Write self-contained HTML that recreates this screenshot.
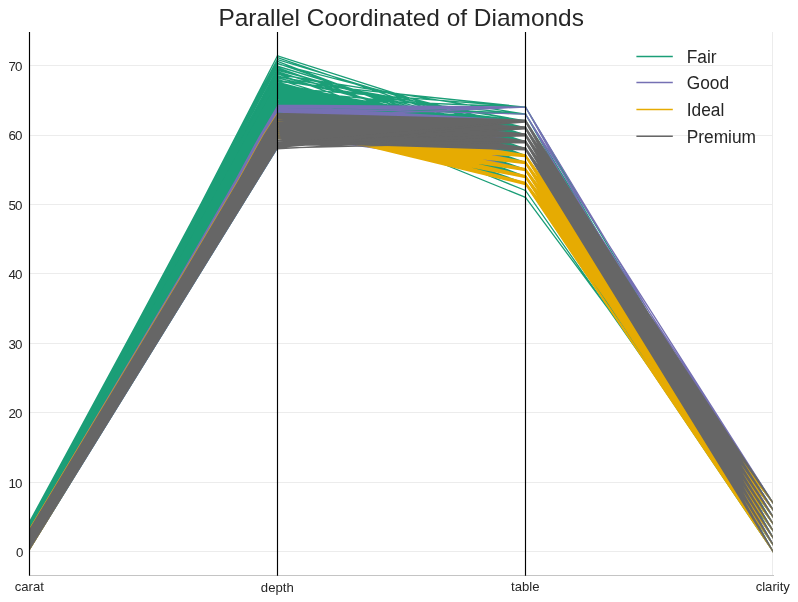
<!DOCTYPE html>
<html lang="en"><head><meta charset="utf-8"><title>Parallel Coordinated of Diamonds</title>
<style>
html,body{margin:0;padding:0;background:#fff;}
body{width:798px;height:602px;overflow:hidden;}
svg{display:block;font-family:"Liberation Sans",Arial,sans-serif;}
</style></head><body>
<svg width="798" height="602" viewBox="0 0 798 602">
<defs><clipPath id="ax"><rect x="29.5" y="32.0" width="743.5" height="543.5"/></clipPath></defs>
<rect width="798" height="602" fill="#ffffff"/>
<g stroke="#ececec" stroke-width="1" shape-rendering="crispEdges"><line x1="29.5" x2="773.0" y1="551.5" y2="551.5"/><line x1="29.5" x2="773.0" y1="482.5" y2="482.5"/><line x1="29.5" x2="773.0" y1="412.5" y2="412.5"/><line x1="29.5" x2="773.0" y1="343.5" y2="343.5"/><line x1="29.5" x2="773.0" y1="273.5" y2="273.5"/><line x1="29.5" x2="773.0" y1="204.5" y2="204.5"/><line x1="29.5" x2="773.0" y1="135.5" y2="135.5"/><line x1="29.5" x2="773.0" y1="65.5" y2="65.5"/><line x1="772.5" x2="772.5" y1="32.0" y2="575.5"/></g>
<g clip-path="url(#ax)" stroke-linecap="square">
<polygon points="29.5,526.3 168,273.5 217.3,180 241,134.9 277.5,67.5 277.5,149 29.5,550.5" fill="#1b9e77"/>
<path d="M29.5 522L277.5 64.1M29.5 524.1L277.5 61.3M29.5 527.9L277.5 59.2M29.5 535.5L277.5 55.8M29.5 523.7L277.5 66.9M29.5 529.3L277.5 63.4M29.5 525.5L277.5 70.4M29.5 531.4L277.5 66.2M29.5 524.8L277.5 74.5M29.5 533.4L277.5 69.7M29.5 527.2L277.5 76.6M29.5 528.6L277.5 79.4M29.5 525.8L277.5 80.1" stroke="#1b9e77" stroke-width="1.3" fill="none"/>
<path d="M277.5 55.8L525.5 134.9M277.5 57.5L525.5 141.9M277.5 59.6L525.5 134.9M277.5 63.4L525.5 148.8M277.5 63.8L525.5 128M277.5 66.2L525.5 141.9M277.5 67.6L525.5 155.7M277.5 70.4L525.5 134.9M277.5 71.7L525.5 148.8M277.5 73.1L525.5 128M277.5 73.8L525.5 162.7M277.5 74.5L525.5 114.1M277.5 75.9L525.5 141.9M277.5 78L525.5 134.9M277.5 79.4L525.5 155.7M277.5 80.1L525.5 121M277.5 81.5L525.5 107.1M277.5 82.2L525.5 148.8M277.5 84.2L525.5 169.6M277.5 84.9L525.5 141.9M277.5 87L525.5 155.7M277.5 87.7L525.5 107.1M277.5 76.6L525.5 121M277.5 69L525.5 141.9M277.5 61.3L525.5 155.7M277.5 117.6L525.5 183.5M277.5 117.6L525.5 176.6M277.5 117.6L525.5 169.6M277.5 117.6L525.5 162.7M277.5 117.6L525.5 155.7M277.5 117.6L525.5 148.8M277.5 117.6L525.5 141.9M277.5 117.6L525.5 134.9M277.5 117.6L525.5 128M277.5 116.9L525.5 183.5M277.5 116.9L525.5 176.6M277.5 116.9L525.5 169.6M277.5 116.9L525.5 162.7M277.5 116.9L525.5 155.7M277.5 116.9L525.5 148.8M277.5 116.9L525.5 141.9M277.5 116.9L525.5 134.9M277.5 116.2L525.5 183.5M277.5 116.2L525.5 176.6M277.5 116.2L525.5 162.7M277.5 116.2L525.5 148.8M277.5 116.2L525.5 141.9M277.5 116.2L525.5 134.9M277.5 116.2L525.5 128M277.5 115.5L525.5 183.5M277.5 115.5L525.5 176.6M277.5 115.5L525.5 169.6M277.5 115.5L525.5 162.7M277.5 115.5L525.5 155.7M277.5 115.5L525.5 148.8M277.5 115.5L525.5 141.9M277.5 115.5L525.5 134.9M277.5 115.5L525.5 128M277.5 114.8L525.5 183.5M277.5 114.8L525.5 176.6M277.5 114.8L525.5 169.6M277.5 114.8L525.5 162.7M277.5 114.8L525.5 155.7M277.5 114.8L525.5 148.8M277.5 114.8L525.5 141.9M277.5 114.8L525.5 134.9M277.5 114.8L525.5 128M277.5 114.1L525.5 183.5M277.5 114.1L525.5 176.6M277.5 114.1L525.5 162.7M277.5 114.1L525.5 155.7M277.5 114.1L525.5 141.9M277.5 114.1L525.5 134.9M277.5 114.1L525.5 128M277.5 113.4L525.5 183.5M277.5 113.4L525.5 176.6M277.5 113.4L525.5 169.6M277.5 113.4L525.5 162.7M277.5 113.4L525.5 155.7M277.5 113.4L525.5 148.8M277.5 113.4L525.5 134.9M277.5 113.4L525.5 128M277.5 112.7L525.5 183.5M277.5 112.7L525.5 176.6M277.5 112.7L525.5 169.6M277.5 112.7L525.5 162.7M277.5 112.7L525.5 148.8M277.5 112.7L525.5 141.9M277.5 112.7L525.5 134.9M277.5 112.7L525.5 128M277.5 112L525.5 183.5M277.5 112L525.5 169.6M277.5 112L525.5 162.7M277.5 112L525.5 155.7M277.5 112L525.5 148.8M277.5 112L525.5 141.9M277.5 112L525.5 134.9M277.5 112L525.5 128M277.5 111.3L525.5 183.5M277.5 111.3L525.5 176.6M277.5 111.3L525.5 169.6M277.5 111.3L525.5 162.7M277.5 111.3L525.5 155.7M277.5 111.3L525.5 148.8M277.5 111.3L525.5 134.9M277.5 111.3L525.5 128M277.5 110.6L525.5 183.5M277.5 110.6L525.5 169.6M277.5 110.6L525.5 155.7M277.5 110.6L525.5 148.8M277.5 110.6L525.5 141.9M277.5 109.9L525.5 183.5M277.5 109.9L525.5 176.6M277.5 109.9L525.5 169.6M277.5 109.9L525.5 162.7M277.5 109.9L525.5 155.7M277.5 109.9L525.5 148.8M277.5 109.9L525.5 141.9M277.5 109.9L525.5 134.9M277.5 109.9L525.5 128M277.5 109.2L525.5 183.5M277.5 109.2L525.5 176.6M277.5 109.2L525.5 162.7M277.5 109.2L525.5 155.7M277.5 109.2L525.5 148.8M277.5 109.2L525.5 141.9M277.5 109.2L525.5 134.9M277.5 108.5L525.5 183.5M277.5 108.5L525.5 169.6M277.5 108.5L525.5 162.7M277.5 108.5L525.5 155.7M277.5 108.5L525.5 148.8M277.5 108.5L525.5 141.9M277.5 108.5L525.5 134.9M277.5 108.5L525.5 128M277.5 107.8L525.5 183.5M277.5 107.8L525.5 176.6M277.5 107.8L525.5 169.6M277.5 107.8L525.5 162.7M277.5 107.8L525.5 155.7M277.5 107.8L525.5 148.8M277.5 107.8L525.5 141.9M277.5 107.8L525.5 134.9M277.5 107.8L525.5 128M277.5 107.1L525.5 176.6M277.5 107.1L525.5 169.6M277.5 107.1L525.5 162.7M277.5 107.1L525.5 155.7M277.5 107.1L525.5 148.8M277.5 107.1L525.5 141.9M277.5 107.1L525.5 134.9M277.5 106.5L525.5 183.5M277.5 106.5L525.5 176.6M277.5 106.5L525.5 169.6M277.5 106.5L525.5 162.7M277.5 106.5L525.5 155.7M277.5 106.5L525.5 148.8M277.5 106.5L525.5 141.9M277.5 106.5L525.5 134.9M277.5 106.5L525.5 128M277.5 105.8L525.5 176.6M277.5 105.8L525.5 169.6M277.5 105.8L525.5 162.7M277.5 105.8L525.5 155.7M277.5 105.8L525.5 148.8M277.5 105.8L525.5 128M277.5 105.1L525.5 183.5M277.5 105.1L525.5 176.6M277.5 105.1L525.5 169.6M277.5 105.1L525.5 162.7M277.5 105.1L525.5 155.7M277.5 105.1L525.5 148.8M277.5 105.1L525.5 141.9M277.5 105.1L525.5 134.9M277.5 105.1L525.5 128M277.5 104.4L525.5 169.6M277.5 104.4L525.5 162.7M277.5 104.4L525.5 155.7M277.5 104.4L525.5 148.8M277.5 104.4L525.5 141.9M277.5 104.4L525.5 134.9M277.5 104.4L525.5 128M277.5 103.7L525.5 183.5M277.5 103.7L525.5 176.6M277.5 103.7L525.5 169.6M277.5 103.7L525.5 162.7M277.5 103.7L525.5 148.8M277.5 103L525.5 183.5M277.5 103L525.5 176.6M277.5 103L525.5 169.6M277.5 103L525.5 162.7M277.5 103L525.5 155.7M277.5 103L525.5 148.8M277.5 103L525.5 134.9M277.5 103L525.5 128M277.5 102.3L525.5 183.5M277.5 102.3L525.5 176.6M277.5 102.3L525.5 169.6M277.5 102.3L525.5 162.7M277.5 102.3L525.5 148.8M277.5 102.3L525.5 141.9M277.5 102.3L525.5 134.9M277.5 102.3L525.5 128M277.5 101.6L525.5 183.5M277.5 101.6L525.5 176.6M277.5 101.6L525.5 169.6M277.5 101.6L525.5 155.7M277.5 101.6L525.5 148.8M277.5 101.6L525.5 134.9M277.5 101.6L525.5 128M277.5 100.9L525.5 183.5M277.5 100.9L525.5 176.6M277.5 100.9L525.5 162.7M277.5 100.9L525.5 155.7M277.5 100.9L525.5 148.8M277.5 100.9L525.5 134.9M277.5 100.9L525.5 128M277.5 100.2L525.5 183.5M277.5 100.2L525.5 176.6M277.5 100.2L525.5 169.6M277.5 100.2L525.5 155.7M277.5 100.2L525.5 148.8M277.5 100.2L525.5 134.9M277.5 99.5L525.5 183.5M277.5 99.5L525.5 176.6M277.5 99.5L525.5 169.6M277.5 99.5L525.5 162.7M277.5 99.5L525.5 155.7M277.5 99.5L525.5 148.8M277.5 99.5L525.5 141.9M277.5 99.5L525.5 134.9M277.5 99.5L525.5 128M277.5 98.8L525.5 176.6M277.5 98.8L525.5 169.6M277.5 98.8L525.5 162.7M277.5 98.8L525.5 148.8M277.5 98.8L525.5 134.9M277.5 98.8L525.5 128M277.5 98.1L525.5 183.5M277.5 98.1L525.5 176.6M277.5 98.1L525.5 169.6M277.5 98.1L525.5 162.7M277.5 98.1L525.5 155.7M277.5 98.1L525.5 148.8M277.5 98.1L525.5 141.9M277.5 98.1L525.5 134.9M277.5 98.1L525.5 128M277.5 97.4L525.5 183.5M277.5 97.4L525.5 176.6M277.5 97.4L525.5 169.6M277.5 97.4L525.5 162.7M277.5 97.4L525.5 155.7M277.5 97.4L525.5 148.8M277.5 97.4L525.5 141.9M277.5 97.4L525.5 134.9M277.5 97.4L525.5 128M277.5 96.7L525.5 183.5M277.5 96.7L525.5 176.6M277.5 96.7L525.5 169.6M277.5 96.7L525.5 162.7M277.5 96.7L525.5 148.8M277.5 96.7L525.5 141.9M277.5 96.7L525.5 134.9M277.5 96.7L525.5 128M277.5 96L525.5 183.5M277.5 96L525.5 176.6M277.5 96L525.5 169.6M277.5 96L525.5 162.7M277.5 96L525.5 148.8M277.5 96L525.5 128M277.5 95.3L525.5 155.7M277.5 95.3L525.5 148.8M277.5 95.3L525.5 141.9M277.5 95.3L525.5 134.9M277.5 94.7L525.5 176.6M277.5 94.7L525.5 148.8M277.5 94.7L525.5 128M277.5 94L525.5 162.7M277.5 94L525.5 148.8M277.5 93.3L525.5 176.6M277.5 93.3L525.5 169.6M277.5 93.3L525.5 155.7M277.5 93.3L525.5 148.8M277.5 93.3L525.5 141.9M277.5 93.3L525.5 128M277.5 92.6L525.5 162.7M277.5 92.6L525.5 155.7M277.5 92.6L525.5 134.9M277.5 91.9L525.5 162.7M277.5 91.9L525.5 155.7M277.5 91.9L525.5 148.8M277.5 91.9L525.5 128M277.5 91.2L525.5 155.7M277.5 91.2L525.5 148.8M277.5 90.5L525.5 176.6M277.5 90.5L525.5 169.6M277.5 90.5L525.5 148.8M277.5 89.8L525.5 176.6M277.5 89.8L525.5 162.7M277.5 89.8L525.5 141.9M277.5 89.1L525.5 176.6M277.5 89.1L525.5 169.6M277.5 89.1L525.5 155.7M277.5 89.1L525.5 148.8M277.5 89.1L525.5 141.9M277.5 89.1L525.5 134.9M277.5 88.4L525.5 176.6M277.5 88.4L525.5 169.6M277.5 88.4L525.5 155.7M277.5 88.4L525.5 141.9M277.5 88.4L525.5 128M277.5 87.7L525.5 176.6M277.5 87.7L525.5 169.6M277.5 87.7L525.5 148.8M277.5 87.7L525.5 128M277.5 86.3L525.5 134.9M277.5 86.3L525.5 128M277.5 85.6L525.5 176.6M277.5 85.6L525.5 162.7M277.5 85.6L525.5 155.7M277.5 85.6L525.5 148.8M277.5 84.9L525.5 176.6M277.5 84.9L525.5 169.6M277.5 84.9L525.5 162.7M277.5 84.9L525.5 148.8M277.5 84.2L525.5 162.7M277.5 84.2L525.5 134.9M277.5 83.5L525.5 162.7M277.5 83.5L525.5 148.8M277.5 83.5L525.5 141.9M277.5 83.5L525.5 134.9M277.5 82.8L525.5 176.6M277.5 82.8L525.5 169.6M277.5 82.8L525.5 155.7M277.5 97.4L525.5 107.1M277.5 100.9L525.5 114.1M277.5 89.8L525.5 114.1M277.5 103L525.5 121M277.5 98.8L525.5 121M277.5 92.6L525.5 121M277.5 104.4L525.5 114.1M277.5 90.5L525.5 190.5M277.5 96.7L525.5 197.4" stroke="#1b9e77" stroke-width="1.3" fill="none"/>
<path d="M525.5 183.5L773 551.5M525.5 183.5L773 544.6M525.5 183.5L773 537.6M525.5 183.5L773 530.7M525.5 183.5L773 523.7M525.5 183.5L773 516.8M525.5 183.5L773 509.8M525.5 183.5L773 502.9M525.5 176.6L773 551.5M525.5 176.6L773 544.6M525.5 176.6L773 537.6M525.5 176.6L773 530.7M525.5 176.6L773 523.7M525.5 176.6L773 516.8M525.5 176.6L773 509.8M525.5 176.6L773 502.9M525.5 169.6L773 551.5M525.5 169.6L773 544.6M525.5 169.6L773 537.6M525.5 169.6L773 530.7M525.5 169.6L773 523.7M525.5 169.6L773 516.8M525.5 169.6L773 509.8M525.5 169.6L773 502.9M525.5 162.7L773 551.5M525.5 162.7L773 544.6M525.5 162.7L773 537.6M525.5 162.7L773 530.7M525.5 162.7L773 523.7M525.5 162.7L773 516.8M525.5 162.7L773 509.8M525.5 162.7L773 502.9M525.5 155.7L773 551.5M525.5 155.7L773 544.6M525.5 155.7L773 537.6M525.5 155.7L773 530.7M525.5 155.7L773 523.7M525.5 155.7L773 516.8M525.5 155.7L773 509.8M525.5 155.7L773 502.9M525.5 148.8L773 551.5M525.5 148.8L773 544.6M525.5 148.8L773 537.6M525.5 148.8L773 530.7M525.5 148.8L773 523.7M525.5 148.8L773 516.8M525.5 148.8L773 509.8M525.5 148.8L773 502.9M525.5 141.9L773 551.5M525.5 141.9L773 544.6M525.5 141.9L773 537.6M525.5 141.9L773 530.7M525.5 141.9L773 523.7M525.5 141.9L773 516.8M525.5 141.9L773 509.8M525.5 141.9L773 502.9M525.5 134.9L773 551.5M525.5 134.9L773 544.6M525.5 134.9L773 537.6M525.5 134.9L773 530.7M525.5 134.9L773 523.7M525.5 134.9L773 516.8M525.5 134.9L773 509.8M525.5 134.9L773 502.9M525.5 128L773 551.5M525.5 128L773 544.6M525.5 128L773 537.6M525.5 128L773 530.7M525.5 128L773 523.7M525.5 128L773 516.8M525.5 128L773 509.8M525.5 128L773 502.9M525.5 121L773 551.5M525.5 121L773 544.6M525.5 121L773 537.6M525.5 121L773 530.7M525.5 121L773 523.7M525.5 121L773 516.8M525.5 121L773 509.8M525.5 114.1L773 551.5M525.5 114.1L773 544.6M525.5 114.1L773 537.6M525.5 114.1L773 530.7M525.5 114.1L773 523.7M525.5 190.5L773 544.6M525.5 197.4L773 530.7M525.5 107.1L773 537.6M525.5 107.1L773 523.7" stroke="#1b9e77" stroke-width="1.3" fill="none"/>
<polygon points="29.5,528.3 181.1,273.5 234.8,180.5 259.1,135.9 277.5,105.1 277.5,149 29.5,550.5" fill="#7570b3"/>
<path d="M277.5 114.1L525.5 134.9M277.5 127.3L525.5 148.8M277.5 105.8L525.5 141.9M277.5 116.9L525.5 128M277.5 136.3L525.5 128M277.5 117.6L525.5 162.7M277.5 114.1L525.5 141.9M277.5 120.3L525.5 148.8M277.5 121L525.5 134.9M277.5 110.6L525.5 162.7M277.5 119L525.5 128M277.5 114.8L525.5 155.7M277.5 130.1L525.5 134.9M277.5 125.9L525.5 141.9M277.5 134.2L525.5 128M277.5 116.9L525.5 155.7M277.5 117.6L525.5 148.8M277.5 137.7L525.5 148.8M277.5 112L525.5 148.8M277.5 120.3L525.5 155.7M277.5 116.2L525.5 128M277.5 129.4L525.5 134.9M277.5 135.6L525.5 141.9M277.5 130.8L525.5 128M277.5 113.4L525.5 134.9M277.5 125.2L525.5 141.9M277.5 121.7L525.5 148.8M277.5 117.6L525.5 162.7M277.5 116.9L525.5 141.9M277.5 129.4L525.5 134.9M277.5 113.4L525.5 148.8M277.5 137L525.5 128M277.5 135.6L525.5 141.9M277.5 114.8L525.5 128M277.5 115.5L525.5 148.8M277.5 122.4L525.5 128M277.5 122.4L525.5 128M277.5 131.4L525.5 128M277.5 105.8L525.5 148.8M277.5 122.4L525.5 141.9M277.5 110.6L525.5 134.9M277.5 128.7L525.5 141.9M277.5 130.8L525.5 134.9M277.5 119L525.5 148.8M277.5 132.8L525.5 162.7M277.5 133.5L525.5 141.9M277.5 110.6L525.5 169.6M277.5 114.8L525.5 148.8M277.5 130.1L525.5 128M277.5 137L525.5 141.9M277.5 137.7L525.5 148.8M277.5 128L525.5 141.9M277.5 132.8L525.5 141.9M277.5 110.6L525.5 141.9M277.5 137.7L525.5 134.9M277.5 133.5L525.5 162.7M277.5 107.1L525.5 155.7M277.5 128L525.5 162.7M277.5 125.9L525.5 176.6M277.5 118.3L525.5 128M277.5 125.9L525.5 148.8M277.5 136.3L525.5 134.9M277.5 134.2L525.5 134.9M277.5 107.1L525.5 155.7M277.5 129.4L525.5 141.9M277.5 131.4L525.5 128M277.5 125.2L525.5 128M277.5 111.3L525.5 155.7M277.5 116.9L525.5 128M277.5 119.6L525.5 155.7M277.5 114.1L525.5 128M277.5 123.1L525.5 134.9M277.5 113.4L525.5 148.8M277.5 136.3L525.5 141.9M277.5 107.1L525.5 141.9M277.5 126.6L525.5 134.9M277.5 128L525.5 141.9M277.5 129.4L525.5 169.6M277.5 116.2L525.5 148.8M277.5 124.5L525.5 128M277.5 132.1L525.5 134.9M277.5 107.8L525.5 141.9M277.5 121.7L525.5 141.9M277.5 105.1L525.5 128M277.5 123.1L525.5 134.9M277.5 134.9L525.5 134.9M277.5 126.6L525.5 134.9M277.5 129.4L525.5 134.9M277.5 119L525.5 128M277.5 124.5L525.5 155.7M277.5 124.5L525.5 155.7M277.5 126.6L525.5 141.9M277.5 135.6L525.5 141.9M277.5 133.5L525.5 128M277.5 121L525.5 155.7M277.5 130.8L525.5 155.7M277.5 128.7L525.5 141.9M277.5 123.1L525.5 134.9M277.5 106.5L525.5 134.9M277.5 137L525.5 155.7M277.5 136.3L525.5 141.9M277.5 122.4L525.5 162.7M277.5 118.3L525.5 134.9M277.5 107.1L525.5 148.8M277.5 110.6L525.5 128M277.5 129.4L525.5 162.7M277.5 134.2L525.5 128M277.5 115.5L525.5 134.9M277.5 107.1L525.5 148.8M277.5 112.7L525.5 162.7M277.5 123.1L525.5 148.8M277.5 112L525.5 148.8M277.5 130.1L525.5 128M277.5 128L525.5 148.8M277.5 133.5L525.5 141.9M277.5 114.8L525.5 128M277.5 134.2L525.5 128M277.5 119L525.5 141.9M277.5 125.2L525.5 141.9M277.5 137.7L525.5 128M277.5 128L525.5 169.6M277.5 116.9L525.5 134.9M277.5 108.5L525.5 155.7M277.5 129.4L525.5 141.9M277.5 106.5L525.5 148.8M277.5 137L525.5 148.8M277.5 121.7L525.5 148.8M277.5 129.4L525.5 148.8M277.5 116.2L525.5 134.9M277.5 136.3L525.5 141.9M277.5 126.6L525.5 155.7M277.5 131.4L525.5 128M277.5 112L525.5 148.8M277.5 130.8L525.5 155.7M277.5 105.8L525.5 155.7M277.5 130.1L525.5 128M277.5 130.8L525.5 141.9M277.5 106.5L525.5 155.7M277.5 121.7L525.5 141.9M277.5 123.8L525.5 134.9M277.5 116.2L525.5 141.9M277.5 125.2L525.5 141.9M277.5 130.8L525.5 134.9M277.5 136.3L525.5 141.9M277.5 135.6L525.5 155.7M277.5 108.5L525.5 134.9M277.5 114.1L525.5 128M277.5 127.3L525.5 141.9M277.5 131.4L525.5 128M277.5 137L525.5 141.9M277.5 116.2L525.5 155.7M277.5 126.6L525.5 134.9M277.5 132.1L525.5 128M277.5 125.9L525.5 141.9M277.5 106.5L525.5 128M277.5 130.8L525.5 128M277.5 125.9L525.5 134.9M277.5 123.8L525.5 162.7M277.5 136.3L525.5 148.8M277.5 107.8L525.5 148.8M277.5 131.4L525.5 155.7M277.5 137L525.5 128M277.5 124.5L525.5 134.9M277.5 136.3L525.5 155.7M277.5 136.3L525.5 128M277.5 129.4L525.5 128M277.5 113.4L525.5 141.9M277.5 128.7L525.5 148.8M277.5 106.5L525.5 155.7M277.5 114.1L525.5 148.8M277.5 127.3L525.5 141.9M277.5 112.7L525.5 148.8M277.5 107.8L525.5 169.6M277.5 137L525.5 155.7M277.5 130.1L525.5 169.6M277.5 106.5L525.5 141.9M277.5 125.2L525.5 141.9M277.5 121.7L525.5 134.9M277.5 107.1L525.5 141.9M277.5 113.4L525.5 128M277.5 110.6L525.5 148.8M277.5 127.3L525.5 155.7M277.5 127.3L525.5 155.7M277.5 134.9L525.5 128M277.5 131.4L525.5 141.9M277.5 135.6L525.5 148.8M277.5 136.3L525.5 148.8M277.5 105.8L525.5 155.7M277.5 108.5L525.5 141.9M277.5 134.9L525.5 141.9M277.5 134.2L525.5 155.7M277.5 123.1L525.5 141.9M277.5 130.1L525.5 155.7M277.5 115.5L525.5 134.9M277.5 113.4L525.5 134.9M277.5 133.5L525.5 148.8M277.5 109.9L525.5 148.8M277.5 125.2L525.5 128M277.5 113.4L525.5 141.9M277.5 129.4L525.5 134.9M277.5 132.8L525.5 128M277.5 127.3L525.5 148.8M277.5 124.5L525.5 128M277.5 130.1L525.5 141.9M277.5 111.3L525.5 169.6M277.5 134.2L525.5 169.6M277.5 122.4L525.5 134.9M277.5 107.8L525.5 169.6M277.5 136.3L525.5 141.9M277.5 131.4L525.5 134.9M277.5 105.8L525.5 169.6M277.5 125.9L525.5 155.7M277.5 109.2L525.5 155.7M277.5 112L525.5 141.9M277.5 107.1L525.5 134.9M277.5 117.6L525.5 134.9M277.5 130.8L525.5 141.9M277.5 130.8L525.5 134.9M277.5 129.4L525.5 155.7M277.5 130.8L525.5 148.8M277.5 137L525.5 141.9M277.5 131.4L525.5 128M277.5 127.3L525.5 134.9M277.5 119.6L525.5 128M277.5 135.6L525.5 128M277.5 119.6L525.5 134.9M277.5 116.9L525.5 141.9M277.5 114.8L525.5 141.9M277.5 124.5L525.5 141.9M277.5 106.5L525.5 141.9M277.5 127.3L525.5 148.8M277.5 123.8L525.5 148.8M277.5 109.2L525.5 134.9M277.5 131.4L525.5 141.9M277.5 114.1L525.5 148.8M277.5 108.5L525.5 148.8M277.5 123.8L525.5 134.9M277.5 109.2L525.5 155.7M277.5 122.4L525.5 141.9M277.5 119.6L525.5 141.9M277.5 116.9L525.5 141.9M277.5 117.6L525.5 148.8M277.5 125.9L525.5 148.8M277.5 128.7L525.5 141.9M277.5 121L525.5 141.9M277.5 121.7L525.5 148.8M277.5 111.3L525.5 141.9M277.5 133.5L525.5 141.9M277.5 107.1L525.5 134.9M277.5 135.6L525.5 141.9M277.5 107.1L525.5 169.6M277.5 117.6L525.5 128M277.5 110.6L525.5 134.9M277.5 130.8L525.5 128M277.5 124.5L525.5 128M277.5 131.4L525.5 155.7M277.5 130.8L525.5 148.8M277.5 125.2L525.5 134.9M277.5 133.5L525.5 134.9M277.5 108.5L525.5 128M277.5 136.3L525.5 155.7M277.5 136.3L525.5 141.9M277.5 110.6L525.5 134.9M277.5 119.6L525.5 134.9M277.5 117.6L525.5 148.8M277.5 119L525.5 134.9M277.5 123.8L525.5 148.8M277.5 123.1L525.5 155.7M277.5 137L525.5 148.8M277.5 130.1L525.5 148.8M277.5 112.7L525.5 141.9M277.5 132.1L525.5 148.8M277.5 122.4L525.5 141.9M277.5 123.8L525.5 141.9M277.5 134.9L525.5 148.8M277.5 136.3L525.5 134.9M277.5 116.9L525.5 128M277.5 112L525.5 134.9M277.5 121L525.5 128M277.5 125.2L525.5 134.9M277.5 106.5L525.5 134.9M277.5 105.1L525.5 134.9M277.5 114.1L525.5 141.9M277.5 105.8L525.5 155.7M277.5 121.7L525.5 128M277.5 132.1L525.5 148.8M277.5 112L525.5 141.9M277.5 126.6L525.5 141.9M277.5 112.7L525.5 134.9M277.5 128.7L525.5 128M277.5 111.3L525.5 141.9M277.5 107.8L525.5 141.9M277.5 130.8L525.5 141.9M277.5 127.3L525.5 128M277.5 136.3L525.5 134.9M277.5 107.1L525.5 141.9M277.5 115.5L525.5 141.9M277.5 112L525.5 148.8M277.5 134.2L525.5 155.7M277.5 125.9L525.5 141.9M277.5 109.2L525.5 162.7M277.5 109.2L525.5 155.7M277.5 134.2L525.5 128M277.5 124.5L525.5 141.9M277.5 112L525.5 148.8M277.5 119L525.5 128M277.5 125.9L525.5 141.9M277.5 132.1L525.5 148.8M277.5 113.4L525.5 128M277.5 129.4L525.5 134.9M277.5 116.9L525.5 128M277.5 116.2L525.5 148.8M277.5 127.3L525.5 134.9M277.5 132.8L525.5 141.9M277.5 117.6L525.5 155.7M277.5 108.5L525.5 141.9M277.5 133.5L525.5 134.9M277.5 137L525.5 128M277.5 137.7L525.5 141.9M277.5 125.9L525.5 134.9M277.5 130.1L525.5 155.7M277.5 130.8L525.5 148.8M277.5 117.6L525.5 148.8M277.5 107.1L525.5 148.8M277.5 130.1L525.5 134.9M277.5 116.9L525.5 141.9M277.5 109.2L525.5 148.8M277.5 129.4L525.5 148.8M277.5 137L525.5 148.8M277.5 126.6L525.5 155.7M277.5 116.9L525.5 169.6M277.5 114.1L525.5 134.9M277.5 129.4L525.5 134.9M277.5 120.3L525.5 148.8M277.5 124.5L525.5 141.9M277.5 112L525.5 141.9M277.5 137L525.5 162.7M277.5 132.8L525.5 148.8M277.5 131.4L525.5 148.8M277.5 116.9L525.5 155.7M277.5 111.3L525.5 141.9M277.5 128L525.5 134.9M277.5 136.3L525.5 128M277.5 114.1L525.5 155.7M277.5 137.7L525.5 128M277.5 122.4L525.5 155.7M277.5 113.4L525.5 155.7M277.5 134.2L525.5 134.9M277.5 130.1L525.5 128M277.5 113.4L525.5 141.9M277.5 114.8L525.5 134.9M277.5 128.7L525.5 155.7M277.5 119.6L525.5 162.7M277.5 120.3L525.5 134.9M277.5 129.4L525.5 155.7M277.5 130.8L525.5 162.7M277.5 109.2L525.5 141.9M277.5 130.1L525.5 141.9M277.5 113.4L525.5 128M277.5 127.3L525.5 148.8M277.5 109.2L525.5 148.8M277.5 107.8L525.5 141.9M277.5 116.9L525.5 148.8M277.5 105.8L525.5 162.7M277.5 122.4L525.5 134.9M277.5 109.9L525.5 162.7M277.5 123.1L525.5 141.9M277.5 128L525.5 155.7M277.5 130.8L525.5 141.9M277.5 107.8L525.5 148.8M277.5 132.8L525.5 134.9M277.5 107.1L525.5 148.8M277.5 126.6L525.5 141.9M277.5 136.3L525.5 134.9M277.5 114.8L525.5 155.7M277.5 113.4L525.5 162.7M277.5 135.6L525.5 148.8M277.5 111.3L525.5 155.7M277.5 110.6L525.5 141.9M277.5 109.2L525.5 148.8M277.5 107.8L525.5 141.9M277.5 130.8L525.5 141.9M277.5 134.2L525.5 128M277.5 111.3L525.5 141.9M277.5 116.9L525.5 134.9M277.5 128L525.5 155.7M277.5 134.2L525.5 128M277.5 130.8L525.5 128M277.5 127.3L525.5 141.9M277.5 129.4L525.5 141.9M277.5 128.7L525.5 141.9M277.5 127.3L525.5 148.8M277.5 106.5L525.5 169.6M277.5 117.6L525.5 148.8M277.5 137L525.5 148.8M277.5 112.7L525.5 141.9M277.5 126.6L525.5 141.9M277.5 130.8L525.5 155.7M277.5 109.2L525.5 128M277.5 132.1L525.5 128M277.5 137.7L525.5 128M277.5 105.8L525.5 134.9M277.5 137.7L525.5 148.8M277.5 112L525.5 148.8M277.5 131.4L525.5 148.8M277.5 110.6L525.5 148.8M277.5 129.4L525.5 134.9M277.5 130.8L525.5 141.9M277.5 114.8L525.5 148.8M277.5 116.9L525.5 141.9M277.5 134.9L525.5 134.9M277.5 112L525.5 162.7M277.5 116.9L525.5 148.8M277.5 124.5L525.5 134.9M277.5 108.5L525.5 128M277.5 137L525.5 128M277.5 130.8L525.5 141.9M277.5 121L525.5 128M277.5 125.2L525.5 134.9M277.5 122.4L525.5 148.8M277.5 105.1L525.5 107.1M277.5 105.8L525.5 107.1M277.5 106.5L525.5 107.1M277.5 107.8L525.5 107.1M277.5 109.9L525.5 107.1M277.5 112.7L525.5 107.1M277.5 117.6L525.5 107.1M277.5 105.8L525.5 121M277.5 107.1L525.5 121M277.5 108.5L525.5 121M277.5 109.9L525.5 121M277.5 111.3L525.5 121M277.5 112L525.5 121M277.5 107.8L525.5 114.1M277.5 112.7L525.5 121M277.5 105.1L525.5 128M277.5 106.5L525.5 128M277.5 109.2L525.5 128M277.5 105.8L525.5 134.9M277.5 107.8L525.5 134.9M277.5 105.1L525.5 141.9M277.5 107.1L525.5 141.9M277.5 105.8L525.5 148.8M277.5 108.5L525.5 148.8M277.5 106.5L525.5 155.7M277.5 109.9L525.5 155.7M277.5 105.1L525.5 162.7M277.5 107.8L525.5 162.7M277.5 105.8L525.5 169.6" stroke="#7570b3" stroke-width="1.3" fill="none"/>
<path d="M525.5 176.6L773 551.5M525.5 176.6L773 544.6M525.5 176.6L773 537.6M525.5 176.6L773 530.7M525.5 176.6L773 523.7M525.5 176.6L773 516.8M525.5 176.6L773 509.8M525.5 176.6L773 502.9M525.5 169.6L773 551.5M525.5 169.6L773 544.6M525.5 169.6L773 537.6M525.5 169.6L773 530.7M525.5 169.6L773 523.7M525.5 169.6L773 516.8M525.5 169.6L773 509.8M525.5 169.6L773 502.9M525.5 162.7L773 551.5M525.5 162.7L773 544.6M525.5 162.7L773 537.6M525.5 162.7L773 530.7M525.5 162.7L773 523.7M525.5 162.7L773 516.8M525.5 162.7L773 509.8M525.5 162.7L773 502.9M525.5 155.7L773 551.5M525.5 155.7L773 544.6M525.5 155.7L773 537.6M525.5 155.7L773 530.7M525.5 155.7L773 523.7M525.5 155.7L773 516.8M525.5 155.7L773 509.8M525.5 155.7L773 502.9M525.5 148.8L773 551.5M525.5 148.8L773 544.6M525.5 148.8L773 537.6M525.5 148.8L773 530.7M525.5 148.8L773 523.7M525.5 148.8L773 516.8M525.5 148.8L773 509.8M525.5 148.8L773 502.9M525.5 141.9L773 551.5M525.5 141.9L773 544.6M525.5 141.9L773 537.6M525.5 141.9L773 530.7M525.5 141.9L773 523.7M525.5 141.9L773 516.8M525.5 141.9L773 509.8M525.5 141.9L773 502.9M525.5 134.9L773 551.5M525.5 134.9L773 544.6M525.5 134.9L773 537.6M525.5 134.9L773 530.7M525.5 134.9L773 523.7M525.5 134.9L773 516.8M525.5 134.9L773 509.8M525.5 134.9L773 502.9M525.5 128L773 551.5M525.5 128L773 544.6M525.5 128L773 537.6M525.5 128L773 530.7M525.5 128L773 523.7M525.5 128L773 516.8M525.5 128L773 509.8M525.5 128L773 502.9M525.5 121L773 551.5M525.5 121L773 544.6M525.5 121L773 537.6M525.5 121L773 530.7M525.5 121L773 523.7M525.5 121L773 516.8M525.5 121L773 509.8M525.5 121L773 502.9M525.5 107.1L773 516.8M525.5 107.1L773 544.6M525.5 114.1L773 537.6M525.5 114.1L773 502.9" stroke="#7570b3" stroke-width="1.3" fill="none"/>
<polygon points="29.1,528.5 182.8,273.2 238.1,179.8 263.1,134.7 277.1,113 277.5,142 29.5,550.8" fill="#e6ab02"/>
<path d="M277.5 124.5L525.5 184.5M277.5 124.5L525.5 183.5M277.5 124.5L525.5 182.5M277.5 123.8L525.5 184.5M277.5 123.8L525.5 183.5M277.5 123.8L525.5 182.5M277.5 123.1L525.5 184.5M277.5 123.1L525.5 183.5M277.5 123.1L525.5 182.5M277.5 122.4L525.5 184.5M277.5 122.4L525.5 183.5M277.5 122.4L525.5 182.5M277.5 121.7L525.5 184.5M277.5 121.7L525.5 183.5M277.5 121.7L525.5 182.5M277.5 121L525.5 184.5M277.5 121L525.5 183.5M277.5 121L525.5 182.5M277.5 120.3L525.5 184.5M277.5 120.3L525.5 183.5M277.5 120.3L525.5 182.5M277.5 119.6L525.5 184.5M277.5 119.6L525.5 183.5M277.5 119.6L525.5 182.5M277.5 119L525.5 184.5M277.5 119L525.5 183.5M277.5 119L525.5 182.5M277.5 118.3L525.5 184.5M277.5 118.3L525.5 183.5M277.5 118.3L525.5 182.5M277.5 117.6L525.5 184.5M277.5 117.6L525.5 183.5M277.5 117.6L525.5 182.5M277.5 128.7L525.5 177.6M277.5 128.7L525.5 176.6M277.5 128.7L525.5 175.6M277.5 128L525.5 177.6M277.5 128L525.5 176.6M277.5 128L525.5 175.6M277.5 127.3L525.5 177.6M277.5 127.3L525.5 176.6M277.5 127.3L525.5 175.6M277.5 126.6L525.5 177.6M277.5 126.6L525.5 176.6M277.5 126.6L525.5 175.6M277.5 125.9L525.5 177.6M277.5 125.9L525.5 176.6M277.5 125.9L525.5 175.6M277.5 125.2L525.5 177.6M277.5 125.2L525.5 176.6M277.5 125.2L525.5 175.6M277.5 124.5L525.5 177.6M277.5 124.5L525.5 176.6M277.5 124.5L525.5 175.6M277.5 123.8L525.5 177.6M277.5 123.8L525.5 176.6M277.5 123.8L525.5 175.6M277.5 123.1L525.5 177.6M277.5 123.1L525.5 176.6M277.5 123.1L525.5 175.6M277.5 122.4L525.5 177.6M277.5 122.4L525.5 176.6M277.5 122.4L525.5 175.6M277.5 121.7L525.5 177.6M277.5 121.7L525.5 176.6M277.5 121.7L525.5 175.6M277.5 121L525.5 177.6M277.5 121L525.5 176.6M277.5 121L525.5 175.6M277.5 120.3L525.5 177.6M277.5 120.3L525.5 176.6M277.5 120.3L525.5 175.6M277.5 119.6L525.5 177.6M277.5 119.6L525.5 176.6M277.5 119.6L525.5 175.6M277.5 119L525.5 177.6M277.5 119L525.5 176.6M277.5 119L525.5 175.6M277.5 118.3L525.5 177.6M277.5 118.3L525.5 176.6M277.5 118.3L525.5 175.6M277.5 132.1L525.5 170.6M277.5 132.1L525.5 169.6M277.5 132.1L525.5 168.7M277.5 131.4L525.5 170.6M277.5 131.4L525.5 169.6M277.5 131.4L525.5 168.7M277.5 130.8L525.5 170.6M277.5 130.8L525.5 169.6M277.5 130.8L525.5 168.7M277.5 130.1L525.5 170.6M277.5 130.1L525.5 169.6M277.5 130.1L525.5 168.7M277.5 129.4L525.5 170.6M277.5 129.4L525.5 169.6M277.5 129.4L525.5 168.7M277.5 128.7L525.5 170.6M277.5 128.7L525.5 169.6M277.5 128.7L525.5 168.7M277.5 128L525.5 170.6M277.5 128L525.5 169.6M277.5 128L525.5 168.7M277.5 127.3L525.5 170.6M277.5 127.3L525.5 169.6M277.5 127.3L525.5 168.7M277.5 126.6L525.5 170.6M277.5 126.6L525.5 169.6M277.5 126.6L525.5 168.7M277.5 125.9L525.5 170.6M277.5 125.9L525.5 169.6M277.5 125.9L525.5 168.7M277.5 125.2L525.5 170.6M277.5 125.2L525.5 169.6M277.5 125.2L525.5 168.7M277.5 124.5L525.5 170.6M277.5 124.5L525.5 169.6M277.5 124.5L525.5 168.7M277.5 123.8L525.5 170.6M277.5 123.8L525.5 169.6M277.5 123.8L525.5 168.7M277.5 123.1L525.5 170.6M277.5 123.1L525.5 169.6M277.5 123.1L525.5 168.7M277.5 122.4L525.5 170.6M277.5 122.4L525.5 169.6M277.5 122.4L525.5 168.7M277.5 121.7L525.5 170.6M277.5 121.7L525.5 169.6M277.5 121.7L525.5 168.7M277.5 121L525.5 170.6M277.5 121L525.5 169.6M277.5 121L525.5 168.7M277.5 120.3L525.5 170.6M277.5 120.3L525.5 169.6M277.5 120.3L525.5 168.7M277.5 119.6L525.5 170.6M277.5 119.6L525.5 169.6M277.5 119.6L525.5 168.7M277.5 119L525.5 170.6M277.5 119L525.5 169.6M277.5 119L525.5 168.7M277.5 118.3L525.5 170.6M277.5 118.3L525.5 169.6M277.5 118.3L525.5 168.7M277.5 135.6L525.5 163.7M277.5 135.6L525.5 162.7M277.5 135.6L525.5 161.7M277.5 134.9L525.5 163.7M277.5 134.9L525.5 162.7M277.5 134.9L525.5 161.7M277.5 134.2L525.5 163.7M277.5 134.2L525.5 162.7M277.5 134.2L525.5 161.7M277.5 133.5L525.5 163.7M277.5 133.5L525.5 162.7M277.5 133.5L525.5 161.7M277.5 132.8L525.5 163.7M277.5 132.8L525.5 162.7M277.5 132.8L525.5 161.7M277.5 132.1L525.5 163.7M277.5 132.1L525.5 162.7M277.5 132.1L525.5 161.7M277.5 131.4L525.5 163.7M277.5 131.4L525.5 162.7M277.5 131.4L525.5 161.7M277.5 130.8L525.5 163.7M277.5 130.8L525.5 162.7M277.5 130.8L525.5 161.7M277.5 130.1L525.5 163.7M277.5 130.1L525.5 162.7M277.5 130.1L525.5 161.7M277.5 129.4L525.5 163.7M277.5 129.4L525.5 162.7M277.5 129.4L525.5 161.7M277.5 128.7L525.5 163.7M277.5 128.7L525.5 162.7M277.5 128.7L525.5 161.7M277.5 128L525.5 163.7M277.5 128L525.5 162.7M277.5 128L525.5 161.7M277.5 127.3L525.5 163.7M277.5 127.3L525.5 162.7M277.5 127.3L525.5 161.7M277.5 126.6L525.5 163.7M277.5 126.6L525.5 162.7M277.5 126.6L525.5 161.7M277.5 125.9L525.5 163.7M277.5 125.9L525.5 162.7M277.5 125.9L525.5 161.7M277.5 125.2L525.5 163.7M277.5 125.2L525.5 162.7M277.5 125.2L525.5 161.7M277.5 124.5L525.5 163.7M277.5 124.5L525.5 162.7M277.5 124.5L525.5 161.7M277.5 123.8L525.5 163.7M277.5 123.8L525.5 162.7M277.5 123.8L525.5 161.7M277.5 123.1L525.5 163.7M277.5 123.1L525.5 162.7M277.5 123.1L525.5 161.7M277.5 122.4L525.5 163.7M277.5 122.4L525.5 162.7M277.5 122.4L525.5 161.7M277.5 121.7L525.5 163.7M277.5 121.7L525.5 162.7M277.5 121.7L525.5 161.7M277.5 121L525.5 163.7M277.5 121L525.5 162.7M277.5 121L525.5 161.7M277.5 120.3L525.5 163.7M277.5 120.3L525.5 162.7M277.5 120.3L525.5 161.7M277.5 119.6L525.5 163.7M277.5 119.6L525.5 162.7M277.5 119.6L525.5 161.7M277.5 119L525.5 163.7M277.5 119L525.5 162.7M277.5 119L525.5 161.7M277.5 118.3L525.5 163.7M277.5 118.3L525.5 162.7M277.5 118.3L525.5 161.7M277.5 138.4L525.5 156.7M277.5 138.4L525.5 155.7M277.5 138.4L525.5 154.8M277.5 137.7L525.5 156.7M277.5 137.7L525.5 155.7M277.5 137.7L525.5 154.8M277.5 137L525.5 156.7M277.5 137L525.5 155.7M277.5 137L525.5 154.8M277.5 136.3L525.5 156.7M277.5 136.3L525.5 155.7M277.5 136.3L525.5 154.8M277.5 135.6L525.5 156.7M277.5 135.6L525.5 155.7M277.5 135.6L525.5 154.8M277.5 134.9L525.5 156.7M277.5 134.9L525.5 155.7M277.5 134.9L525.5 154.8M277.5 134.2L525.5 156.7M277.5 134.2L525.5 155.7M277.5 134.2L525.5 154.8M277.5 133.5L525.5 156.7M277.5 133.5L525.5 155.7M277.5 133.5L525.5 154.8M277.5 132.8L525.5 156.7M277.5 132.8L525.5 155.7M277.5 132.8L525.5 154.8M277.5 132.1L525.5 156.7M277.5 132.1L525.5 155.7M277.5 132.1L525.5 154.8M277.5 131.4L525.5 156.7M277.5 131.4L525.5 155.7M277.5 131.4L525.5 154.8M277.5 130.8L525.5 156.7M277.5 130.8L525.5 155.7M277.5 130.8L525.5 154.8M277.5 130.1L525.5 156.7M277.5 130.1L525.5 155.7M277.5 130.1L525.5 154.8M277.5 129.4L525.5 156.7M277.5 129.4L525.5 155.7M277.5 129.4L525.5 154.8M277.5 128.7L525.5 156.7M277.5 128.7L525.5 155.7M277.5 128.7L525.5 154.8M277.5 128L525.5 156.7M277.5 128L525.5 155.7M277.5 128L525.5 154.8M277.5 127.3L525.5 156.7M277.5 127.3L525.5 155.7M277.5 127.3L525.5 154.8M277.5 126.6L525.5 156.7M277.5 126.6L525.5 155.7M277.5 126.6L525.5 154.8M277.5 125.9L525.5 156.7M277.5 125.9L525.5 155.7M277.5 125.9L525.5 154.8M277.5 125.2L525.5 156.7M277.5 125.2L525.5 155.7M277.5 125.2L525.5 154.8M277.5 124.5L525.5 156.7M277.5 124.5L525.5 155.7M277.5 124.5L525.5 154.8M277.5 123.8L525.5 156.7M277.5 123.8L525.5 155.7M277.5 123.8L525.5 154.8M277.5 123.1L525.5 156.7M277.5 123.1L525.5 155.7M277.5 123.1L525.5 154.8M277.5 122.4L525.5 156.7M277.5 122.4L525.5 155.7M277.5 122.4L525.5 154.8M277.5 121.7L525.5 156.7M277.5 121.7L525.5 155.7M277.5 121.7L525.5 154.8M277.5 121L525.5 156.7M277.5 121L525.5 155.7M277.5 121L525.5 154.8M277.5 120.3L525.5 156.7M277.5 120.3L525.5 155.7M277.5 120.3L525.5 154.8M277.5 119.6L525.5 156.7M277.5 119.6L525.5 155.7M277.5 119.6L525.5 154.8M277.5 119L525.5 156.7M277.5 119L525.5 155.7M277.5 119L525.5 154.8M277.5 118.3L525.5 156.7M277.5 118.3L525.5 155.7M277.5 118.3L525.5 154.8" stroke="#e6ab02" stroke-width="1.3" fill="none"/>
<path d="M525.5 184.5L773 551.5M525.5 183.5L773 551.5M525.5 182.5L773 551.5M525.5 184.5L773 537.6M525.5 183.5L773 537.6M525.5 182.5L773 537.6M525.5 184.5L773 530.7M525.5 183.5L773 530.7M525.5 182.5L773 530.7M525.5 184.5L773 523.7M525.5 183.5L773 523.7M525.5 182.5L773 523.7M525.5 184.5L773 516.8M525.5 183.5L773 516.8M525.5 182.5L773 516.8M525.5 184.5L773 509.8M525.5 183.5L773 509.8M525.5 182.5L773 509.8M525.5 184.5L773 502.9M525.5 183.5L773 502.9M525.5 182.5L773 502.9M525.5 177.6L773 551.5M525.5 176.6L773 551.5M525.5 175.6L773 551.5M525.5 177.6L773 544.6M525.5 176.6L773 544.6M525.5 175.6L773 544.6M525.5 177.6L773 537.6M525.5 176.6L773 537.6M525.5 175.6L773 537.6M525.5 177.6L773 530.7M525.5 176.6L773 530.7M525.5 175.6L773 530.7M525.5 177.6L773 523.7M525.5 176.6L773 523.7M525.5 175.6L773 523.7M525.5 177.6L773 516.8M525.5 176.6L773 516.8M525.5 175.6L773 516.8M525.5 177.6L773 509.8M525.5 176.6L773 509.8M525.5 175.6L773 509.8M525.5 177.6L773 502.9M525.5 176.6L773 502.9M525.5 175.6L773 502.9M525.5 170.6L773 551.5M525.5 169.6L773 551.5M525.5 168.7L773 551.5M525.5 170.6L773 544.6M525.5 169.6L773 544.6M525.5 168.7L773 544.6M525.5 170.6L773 537.6M525.5 169.6L773 537.6M525.5 168.7L773 537.6M525.5 170.6L773 530.7M525.5 169.6L773 530.7M525.5 168.7L773 530.7M525.5 170.6L773 523.7M525.5 169.6L773 523.7M525.5 168.7L773 523.7M525.5 170.6L773 516.8M525.5 169.6L773 516.8M525.5 168.7L773 516.8M525.5 170.6L773 509.8M525.5 169.6L773 509.8M525.5 168.7L773 509.8M525.5 170.6L773 502.9M525.5 169.6L773 502.9M525.5 168.7L773 502.9M525.5 163.7L773 551.5M525.5 162.7L773 551.5M525.5 161.7L773 551.5M525.5 163.7L773 544.6M525.5 162.7L773 544.6M525.5 161.7L773 544.6M525.5 163.7L773 537.6M525.5 162.7L773 537.6M525.5 161.7L773 537.6M525.5 163.7L773 530.7M525.5 162.7L773 530.7M525.5 161.7L773 530.7M525.5 163.7L773 523.7M525.5 162.7L773 523.7M525.5 161.7L773 523.7M525.5 163.7L773 516.8M525.5 162.7L773 516.8M525.5 161.7L773 516.8M525.5 163.7L773 509.8M525.5 162.7L773 509.8M525.5 161.7L773 509.8M525.5 163.7L773 502.9M525.5 162.7L773 502.9M525.5 161.7L773 502.9M525.5 156.7L773 551.5M525.5 155.7L773 551.5M525.5 154.8L773 551.5M525.5 156.7L773 544.6M525.5 155.7L773 544.6M525.5 154.8L773 544.6M525.5 156.7L773 537.6M525.5 155.7L773 537.6M525.5 154.8L773 537.6M525.5 156.7L773 530.7M525.5 155.7L773 530.7M525.5 154.8L773 530.7M525.5 156.7L773 523.7M525.5 155.7L773 523.7M525.5 154.8L773 523.7M525.5 156.7L773 516.8M525.5 155.7L773 516.8M525.5 154.8L773 516.8M525.5 156.7L773 509.8M525.5 155.7L773 509.8M525.5 154.8L773 509.8M525.5 156.7L773 502.9M525.5 155.7L773 502.9M525.5 154.8L773 502.9" stroke="#e6ab02" stroke-width="1.3" fill="none"/>
<polygon points="29.5,528.8 183.2,273.5 238.5,180 263.5,134.9 277.5,113.3 277.5,148.6 29.5,550.4" fill="#666666"/>
<path d="M277.5 141.9L525.5 149.8M277.5 141.9L525.5 148.8M277.5 141.9L525.5 147.8M277.5 141.2L525.5 149.8M277.5 141.2L525.5 148.8M277.5 141.2L525.5 147.8M277.5 140.5L525.5 149.8M277.5 140.5L525.5 148.8M277.5 140.5L525.5 147.8M277.5 139.8L525.5 149.8M277.5 139.8L525.5 148.8M277.5 139.8L525.5 147.8M277.5 139.1L525.5 149.8M277.5 139.1L525.5 148.8M277.5 139.1L525.5 147.8M277.5 138.4L525.5 149.8M277.5 138.4L525.5 148.8M277.5 138.4L525.5 147.8M277.5 137.7L525.5 149.8M277.5 137.7L525.5 148.8M277.5 137.7L525.5 147.8M277.5 137L525.5 149.8M277.5 137L525.5 148.8M277.5 137L525.5 147.8M277.5 136.3L525.5 149.8M277.5 136.3L525.5 148.8M277.5 136.3L525.5 147.8M277.5 135.6L525.5 149.8M277.5 135.6L525.5 148.8M277.5 135.6L525.5 147.8M277.5 134.9L525.5 149.8M277.5 134.9L525.5 148.8M277.5 134.9L525.5 147.8M277.5 134.2L525.5 149.8M277.5 134.2L525.5 148.8M277.5 134.2L525.5 147.8M277.5 133.5L525.5 149.8M277.5 133.5L525.5 148.8M277.5 133.5L525.5 147.8M277.5 132.8L525.5 149.8M277.5 132.8L525.5 148.8M277.5 132.8L525.5 147.8M277.5 132.1L525.5 149.8M277.5 132.1L525.5 148.8M277.5 132.1L525.5 147.8M277.5 131.4L525.5 149.8M277.5 131.4L525.5 148.8M277.5 131.4L525.5 147.8M277.5 130.8L525.5 149.8M277.5 130.8L525.5 148.8M277.5 130.8L525.5 147.8M277.5 130.1L525.5 149.8M277.5 130.1L525.5 148.8M277.5 130.1L525.5 147.8M277.5 129.4L525.5 149.8M277.5 129.4L525.5 148.8M277.5 129.4L525.5 147.8M277.5 128.7L525.5 149.8M277.5 128.7L525.5 148.8M277.5 128.7L525.5 147.8M277.5 128L525.5 149.8M277.5 128L525.5 148.8M277.5 128L525.5 147.8M277.5 127.3L525.5 149.8M277.5 127.3L525.5 148.8M277.5 127.3L525.5 147.8M277.5 126.6L525.5 149.8M277.5 126.6L525.5 148.8M277.5 126.6L525.5 147.8M277.5 125.9L525.5 149.8M277.5 125.9L525.5 148.8M277.5 125.9L525.5 147.8M277.5 125.2L525.5 149.8M277.5 125.2L525.5 148.8M277.5 125.2L525.5 147.8M277.5 124.5L525.5 149.8M277.5 124.5L525.5 148.8M277.5 124.5L525.5 147.8M277.5 123.8L525.5 149.8M277.5 123.8L525.5 148.8M277.5 123.8L525.5 147.8M277.5 123.1L525.5 149.8M277.5 123.1L525.5 148.8M277.5 123.1L525.5 147.8M277.5 122.4L525.5 149.8M277.5 122.4L525.5 148.8M277.5 122.4L525.5 147.8M277.5 121.7L525.5 149.8M277.5 121.7L525.5 148.8M277.5 121.7L525.5 147.8M277.5 121L525.5 149.8M277.5 121L525.5 148.8M277.5 121L525.5 147.8M277.5 120.3L525.5 149.8M277.5 120.3L525.5 148.8M277.5 120.3L525.5 147.8M277.5 119.6L525.5 149.8M277.5 119.6L525.5 148.8M277.5 119.6L525.5 147.8M277.5 119L525.5 149.8M277.5 119L525.5 148.8M277.5 119L525.5 147.8M277.5 118.3L525.5 149.8M277.5 118.3L525.5 148.8M277.5 118.3L525.5 147.8M277.5 117.6L525.5 149.8M277.5 117.6L525.5 148.8M277.5 117.6L525.5 147.8M277.5 116.9L525.5 149.8M277.5 116.9L525.5 148.8M277.5 116.9L525.5 147.8M277.5 116.2L525.5 149.8M277.5 116.2L525.5 148.8M277.5 116.2L525.5 147.8M277.5 115.5L525.5 149.8M277.5 115.5L525.5 148.8M277.5 115.5L525.5 147.8M277.5 114.8L525.5 149.8M277.5 114.8L525.5 148.8M277.5 114.8L525.5 147.8M277.5 114.1L525.5 149.8M277.5 114.1L525.5 148.8M277.5 114.1L525.5 147.8M277.5 113.4L525.5 149.8M277.5 113.4L525.5 148.8M277.5 113.4L525.5 147.8M277.5 141.9L525.5 142.8M277.5 141.9L525.5 141.9M277.5 141.9L525.5 140.9M277.5 141.2L525.5 142.8M277.5 141.2L525.5 141.9M277.5 141.2L525.5 140.9M277.5 140.5L525.5 142.8M277.5 140.5L525.5 141.9M277.5 140.5L525.5 140.9M277.5 139.8L525.5 142.8M277.5 139.8L525.5 141.9M277.5 139.8L525.5 140.9M277.5 139.1L525.5 142.8M277.5 139.1L525.5 141.9M277.5 139.1L525.5 140.9M277.5 138.4L525.5 142.8M277.5 138.4L525.5 141.9M277.5 138.4L525.5 140.9M277.5 137.7L525.5 142.8M277.5 137.7L525.5 141.9M277.5 137.7L525.5 140.9M277.5 137L525.5 142.8M277.5 137L525.5 141.9M277.5 137L525.5 140.9M277.5 136.3L525.5 142.8M277.5 136.3L525.5 141.9M277.5 136.3L525.5 140.9M277.5 135.6L525.5 142.8M277.5 135.6L525.5 141.9M277.5 135.6L525.5 140.9M277.5 134.9L525.5 142.8M277.5 134.9L525.5 141.9M277.5 134.9L525.5 140.9M277.5 134.2L525.5 142.8M277.5 134.2L525.5 141.9M277.5 134.2L525.5 140.9M277.5 133.5L525.5 142.8M277.5 133.5L525.5 141.9M277.5 133.5L525.5 140.9M277.5 132.8L525.5 142.8M277.5 132.8L525.5 141.9M277.5 132.8L525.5 140.9M277.5 132.1L525.5 142.8M277.5 132.1L525.5 141.9M277.5 132.1L525.5 140.9M277.5 131.4L525.5 142.8M277.5 131.4L525.5 141.9M277.5 131.4L525.5 140.9M277.5 130.8L525.5 142.8M277.5 130.8L525.5 141.9M277.5 130.8L525.5 140.9M277.5 130.1L525.5 142.8M277.5 130.1L525.5 141.9M277.5 130.1L525.5 140.9M277.5 129.4L525.5 142.8M277.5 129.4L525.5 141.9M277.5 129.4L525.5 140.9M277.5 128.7L525.5 142.8M277.5 128.7L525.5 141.9M277.5 128.7L525.5 140.9M277.5 128L525.5 142.8M277.5 128L525.5 141.9M277.5 128L525.5 140.9M277.5 127.3L525.5 142.8M277.5 127.3L525.5 141.9M277.5 127.3L525.5 140.9M277.5 126.6L525.5 142.8M277.5 126.6L525.5 141.9M277.5 126.6L525.5 140.9M277.5 125.9L525.5 142.8M277.5 125.9L525.5 141.9M277.5 125.9L525.5 140.9M277.5 125.2L525.5 142.8M277.5 125.2L525.5 141.9M277.5 125.2L525.5 140.9M277.5 124.5L525.5 142.8M277.5 124.5L525.5 141.9M277.5 124.5L525.5 140.9M277.5 123.8L525.5 142.8M277.5 123.8L525.5 141.9M277.5 123.8L525.5 140.9M277.5 123.1L525.5 142.8M277.5 123.1L525.5 141.9M277.5 123.1L525.5 140.9M277.5 122.4L525.5 142.8M277.5 122.4L525.5 141.9M277.5 122.4L525.5 140.9M277.5 121.7L525.5 142.8M277.5 121.7L525.5 141.9M277.5 121.7L525.5 140.9M277.5 121L525.5 142.8M277.5 121L525.5 141.9M277.5 121L525.5 140.9M277.5 120.3L525.5 142.8M277.5 120.3L525.5 141.9M277.5 120.3L525.5 140.9M277.5 119.6L525.5 142.8M277.5 119.6L525.5 141.9M277.5 119.6L525.5 140.9M277.5 119L525.5 142.8M277.5 119L525.5 141.9M277.5 119L525.5 140.9M277.5 118.3L525.5 142.8M277.5 118.3L525.5 141.9M277.5 118.3L525.5 140.9M277.5 117.6L525.5 142.8M277.5 117.6L525.5 141.9M277.5 117.6L525.5 140.9M277.5 116.9L525.5 142.8M277.5 116.9L525.5 141.9M277.5 116.9L525.5 140.9M277.5 116.2L525.5 142.8M277.5 116.2L525.5 141.9M277.5 116.2L525.5 140.9M277.5 115.5L525.5 142.8M277.5 115.5L525.5 141.9M277.5 115.5L525.5 140.9M277.5 114.8L525.5 142.8M277.5 114.8L525.5 141.9M277.5 114.8L525.5 140.9M277.5 114.1L525.5 142.8M277.5 114.1L525.5 141.9M277.5 114.1L525.5 140.9M277.5 113.4L525.5 142.8M277.5 113.4L525.5 141.9M277.5 113.4L525.5 140.9M277.5 141.9L525.5 135.9M277.5 141.9L525.5 134.9M277.5 141.9L525.5 133.9M277.5 141.2L525.5 135.9M277.5 141.2L525.5 134.9M277.5 141.2L525.5 133.9M277.5 140.5L525.5 135.9M277.5 140.5L525.5 134.9M277.5 140.5L525.5 133.9M277.5 139.8L525.5 135.9M277.5 139.8L525.5 134.9M277.5 139.8L525.5 133.9M277.5 139.1L525.5 135.9M277.5 139.1L525.5 134.9M277.5 139.1L525.5 133.9M277.5 138.4L525.5 135.9M277.5 138.4L525.5 134.9M277.5 138.4L525.5 133.9M277.5 137.7L525.5 135.9M277.5 137.7L525.5 134.9M277.5 137.7L525.5 133.9M277.5 137L525.5 135.9M277.5 137L525.5 134.9M277.5 137L525.5 133.9M277.5 136.3L525.5 135.9M277.5 136.3L525.5 134.9M277.5 136.3L525.5 133.9M277.5 135.6L525.5 135.9M277.5 135.6L525.5 134.9M277.5 135.6L525.5 133.9M277.5 134.9L525.5 135.9M277.5 134.9L525.5 134.9M277.5 134.9L525.5 133.9M277.5 134.2L525.5 135.9M277.5 134.2L525.5 134.9M277.5 134.2L525.5 133.9M277.5 133.5L525.5 135.9M277.5 133.5L525.5 134.9M277.5 133.5L525.5 133.9M277.5 132.8L525.5 135.9M277.5 132.8L525.5 134.9M277.5 132.8L525.5 133.9M277.5 132.1L525.5 135.9M277.5 132.1L525.5 134.9M277.5 132.1L525.5 133.9M277.5 131.4L525.5 135.9M277.5 131.4L525.5 134.9M277.5 131.4L525.5 133.9M277.5 130.8L525.5 135.9M277.5 130.8L525.5 134.9M277.5 130.8L525.5 133.9M277.5 130.1L525.5 135.9M277.5 130.1L525.5 134.9M277.5 130.1L525.5 133.9M277.5 129.4L525.5 135.9M277.5 129.4L525.5 134.9M277.5 129.4L525.5 133.9M277.5 128.7L525.5 135.9M277.5 128.7L525.5 134.9M277.5 128.7L525.5 133.9M277.5 128L525.5 135.9M277.5 128L525.5 134.9M277.5 128L525.5 133.9M277.5 127.3L525.5 135.9M277.5 127.3L525.5 134.9M277.5 127.3L525.5 133.9M277.5 126.6L525.5 135.9M277.5 126.6L525.5 134.9M277.5 126.6L525.5 133.9M277.5 125.9L525.5 135.9M277.5 125.9L525.5 134.9M277.5 125.9L525.5 133.9M277.5 125.2L525.5 135.9M277.5 125.2L525.5 134.9M277.5 125.2L525.5 133.9M277.5 124.5L525.5 135.9M277.5 124.5L525.5 134.9M277.5 124.5L525.5 133.9M277.5 123.8L525.5 135.9M277.5 123.8L525.5 134.9M277.5 123.8L525.5 133.9M277.5 123.1L525.5 135.9M277.5 123.1L525.5 134.9M277.5 123.1L525.5 133.9M277.5 122.4L525.5 135.9M277.5 122.4L525.5 134.9M277.5 122.4L525.5 133.9M277.5 121.7L525.5 135.9M277.5 121.7L525.5 134.9M277.5 121.7L525.5 133.9M277.5 121L525.5 135.9M277.5 121L525.5 134.9M277.5 121L525.5 133.9M277.5 120.3L525.5 135.9M277.5 120.3L525.5 134.9M277.5 120.3L525.5 133.9M277.5 119.6L525.5 135.9M277.5 119.6L525.5 134.9M277.5 119.6L525.5 133.9M277.5 119L525.5 135.9M277.5 119L525.5 134.9M277.5 119L525.5 133.9M277.5 118.3L525.5 135.9M277.5 118.3L525.5 134.9M277.5 118.3L525.5 133.9M277.5 117.6L525.5 135.9M277.5 117.6L525.5 134.9M277.5 117.6L525.5 133.9M277.5 116.9L525.5 135.9M277.5 116.9L525.5 134.9M277.5 116.9L525.5 133.9M277.5 116.2L525.5 135.9M277.5 116.2L525.5 134.9M277.5 116.2L525.5 133.9M277.5 115.5L525.5 135.9M277.5 115.5L525.5 134.9M277.5 115.5L525.5 133.9M277.5 114.8L525.5 135.9M277.5 114.8L525.5 134.9M277.5 114.8L525.5 133.9M277.5 114.1L525.5 135.9M277.5 114.1L525.5 134.9M277.5 114.1L525.5 133.9M277.5 113.4L525.5 135.9M277.5 113.4L525.5 134.9M277.5 113.4L525.5 133.9M277.5 141.9L525.5 128.9M277.5 141.9L525.5 128M277.5 141.9L525.5 127M277.5 141.2L525.5 128.9M277.5 141.2L525.5 128M277.5 141.2L525.5 127M277.5 140.5L525.5 128.9M277.5 140.5L525.5 128M277.5 140.5L525.5 127M277.5 139.8L525.5 128.9M277.5 139.8L525.5 128M277.5 139.8L525.5 127M277.5 139.1L525.5 128.9M277.5 139.1L525.5 128M277.5 139.1L525.5 127M277.5 138.4L525.5 128.9M277.5 138.4L525.5 128M277.5 138.4L525.5 127M277.5 137.7L525.5 128.9M277.5 137.7L525.5 128M277.5 137.7L525.5 127M277.5 137L525.5 128.9M277.5 137L525.5 128M277.5 137L525.5 127M277.5 136.3L525.5 128.9M277.5 136.3L525.5 128M277.5 136.3L525.5 127M277.5 135.6L525.5 128.9M277.5 135.6L525.5 128M277.5 135.6L525.5 127M277.5 134.9L525.5 128.9M277.5 134.9L525.5 128M277.5 134.9L525.5 127M277.5 134.2L525.5 128.9M277.5 134.2L525.5 128M277.5 134.2L525.5 127M277.5 133.5L525.5 128.9M277.5 133.5L525.5 128M277.5 133.5L525.5 127M277.5 132.8L525.5 128.9M277.5 132.8L525.5 128M277.5 132.8L525.5 127M277.5 132.1L525.5 128.9M277.5 132.1L525.5 128M277.5 132.1L525.5 127M277.5 131.4L525.5 128.9M277.5 131.4L525.5 128M277.5 131.4L525.5 127M277.5 130.8L525.5 128.9M277.5 130.8L525.5 128M277.5 130.8L525.5 127M277.5 130.1L525.5 128.9M277.5 130.1L525.5 128M277.5 130.1L525.5 127M277.5 129.4L525.5 128.9M277.5 129.4L525.5 128M277.5 129.4L525.5 127M277.5 128.7L525.5 128.9M277.5 128.7L525.5 128M277.5 128.7L525.5 127M277.5 128L525.5 128.9M277.5 128L525.5 128M277.5 128L525.5 127M277.5 127.3L525.5 128.9M277.5 127.3L525.5 128M277.5 127.3L525.5 127M277.5 126.6L525.5 128.9M277.5 126.6L525.5 128M277.5 126.6L525.5 127M277.5 125.9L525.5 128.9M277.5 125.9L525.5 128M277.5 125.9L525.5 127M277.5 125.2L525.5 128.9M277.5 125.2L525.5 128M277.5 125.2L525.5 127M277.5 124.5L525.5 128.9M277.5 124.5L525.5 128M277.5 124.5L525.5 127M277.5 123.8L525.5 128.9M277.5 123.8L525.5 128M277.5 123.8L525.5 127M277.5 123.1L525.5 128.9M277.5 123.1L525.5 128M277.5 123.1L525.5 127M277.5 122.4L525.5 128.9M277.5 122.4L525.5 128M277.5 122.4L525.5 127M277.5 121.7L525.5 128.9M277.5 121.7L525.5 128M277.5 121.7L525.5 127M277.5 121L525.5 128.9M277.5 121L525.5 128M277.5 121L525.5 127M277.5 120.3L525.5 128.9M277.5 120.3L525.5 128M277.5 120.3L525.5 127M277.5 119.6L525.5 128.9M277.5 119.6L525.5 128M277.5 119.6L525.5 127M277.5 119L525.5 128.9M277.5 119L525.5 128M277.5 119L525.5 127M277.5 118.3L525.5 128.9M277.5 118.3L525.5 128M277.5 118.3L525.5 127M277.5 117.6L525.5 128.9M277.5 117.6L525.5 128M277.5 117.6L525.5 127M277.5 116.9L525.5 128.9M277.5 116.9L525.5 128M277.5 116.9L525.5 127M277.5 116.2L525.5 128.9M277.5 116.2L525.5 128M277.5 116.2L525.5 127M277.5 115.5L525.5 128.9M277.5 115.5L525.5 128M277.5 115.5L525.5 127M277.5 114.8L525.5 128.9M277.5 114.8L525.5 128M277.5 114.8L525.5 127M277.5 114.1L525.5 128.9M277.5 114.1L525.5 128M277.5 114.1L525.5 127M277.5 113.4L525.5 128.9M277.5 113.4L525.5 128M277.5 113.4L525.5 127M277.5 141.9L525.5 122M277.5 141.9L525.5 121M277.5 141.9L525.5 120.1M277.5 141.2L525.5 122M277.5 141.2L525.5 121M277.5 141.2L525.5 120.1M277.5 140.5L525.5 122M277.5 140.5L525.5 121M277.5 140.5L525.5 120.1M277.5 139.8L525.5 122M277.5 139.8L525.5 121M277.5 139.8L525.5 120.1M277.5 139.1L525.5 122M277.5 139.1L525.5 121M277.5 139.1L525.5 120.1M277.5 138.4L525.5 122M277.5 138.4L525.5 121M277.5 138.4L525.5 120.1M277.5 137.7L525.5 122M277.5 137.7L525.5 121M277.5 137.7L525.5 120.1M277.5 137L525.5 122M277.5 137L525.5 121M277.5 137L525.5 120.1M277.5 136.3L525.5 122M277.5 136.3L525.5 121M277.5 136.3L525.5 120.1M277.5 135.6L525.5 122M277.5 135.6L525.5 121M277.5 135.6L525.5 120.1M277.5 134.9L525.5 122M277.5 134.9L525.5 121M277.5 134.9L525.5 120.1M277.5 134.2L525.5 122M277.5 134.2L525.5 121M277.5 134.2L525.5 120.1M277.5 133.5L525.5 122M277.5 133.5L525.5 121M277.5 133.5L525.5 120.1M277.5 132.8L525.5 122M277.5 132.8L525.5 121M277.5 132.8L525.5 120.1M277.5 132.1L525.5 122M277.5 132.1L525.5 121M277.5 132.1L525.5 120.1M277.5 131.4L525.5 122M277.5 131.4L525.5 121M277.5 131.4L525.5 120.1M277.5 130.8L525.5 122M277.5 130.8L525.5 121M277.5 130.8L525.5 120.1M277.5 130.1L525.5 122M277.5 130.1L525.5 121M277.5 130.1L525.5 120.1M277.5 129.4L525.5 122M277.5 129.4L525.5 121M277.5 129.4L525.5 120.1M277.5 128.7L525.5 122M277.5 128.7L525.5 121M277.5 128.7L525.5 120.1M277.5 128L525.5 122M277.5 128L525.5 121M277.5 128L525.5 120.1M277.5 127.3L525.5 122M277.5 127.3L525.5 121M277.5 127.3L525.5 120.1M277.5 126.6L525.5 122M277.5 126.6L525.5 121M277.5 126.6L525.5 120.1M277.5 125.9L525.5 122M277.5 125.9L525.5 121M277.5 125.9L525.5 120.1M277.5 125.2L525.5 122M277.5 125.2L525.5 121M277.5 125.2L525.5 120.1M277.5 124.5L525.5 122M277.5 124.5L525.5 121M277.5 124.5L525.5 120.1M277.5 123.8L525.5 122M277.5 123.8L525.5 121M277.5 123.8L525.5 120.1M277.5 123.1L525.5 122M277.5 123.1L525.5 121M277.5 123.1L525.5 120.1M277.5 122.4L525.5 122M277.5 122.4L525.5 121M277.5 122.4L525.5 120.1M277.5 121.7L525.5 122M277.5 121.7L525.5 121M277.5 121.7L525.5 120.1M277.5 121L525.5 122M277.5 121L525.5 121M277.5 121L525.5 120.1M277.5 120.3L525.5 122M277.5 120.3L525.5 121M277.5 120.3L525.5 120.1M277.5 119.6L525.5 122M277.5 119.6L525.5 121M277.5 119.6L525.5 120.1M277.5 119L525.5 122M277.5 119L525.5 121M277.5 119L525.5 120.1M277.5 118.3L525.5 122M277.5 118.3L525.5 121M277.5 118.3L525.5 120.1M277.5 117.6L525.5 122M277.5 117.6L525.5 121M277.5 117.6L525.5 120.1M277.5 116.9L525.5 122M277.5 116.9L525.5 121M277.5 116.9L525.5 120.1M277.5 116.2L525.5 122M277.5 116.2L525.5 121M277.5 116.2L525.5 120.1M277.5 115.5L525.5 122M277.5 115.5L525.5 121M277.5 115.5L525.5 120.1M277.5 114.8L525.5 122M277.5 114.8L525.5 121M277.5 114.8L525.5 120.1M277.5 114.1L525.5 122M277.5 114.1L525.5 121M277.5 114.1L525.5 120.1M277.5 113.4L525.5 122M277.5 113.4L525.5 121M277.5 113.4L525.5 120.1" stroke="#666666" stroke-width="1.3" fill="none"/>
<path d="M277.5 148.8L525.5 134.9M277.5 148.1L525.5 141.9M277.5 147.4L525.5 128M277.5 146.4L525.5 134.9M277.5 145.3L525.5 141.9M277.5 144.6L525.5 121M277.5 146.7L525.5 121M277.5 143.9L525.5 134.9M277.5 143.3L525.5 141.9M277.5 142.6L525.5 128M277.5 142.6L525.5 134.9M277.5 143.6L525.5 121M277.5 144.6L525.5 141.9M277.5 145.7L525.5 128" stroke="#666666" stroke-width="1.3" fill="none"/>
<path d="M525.5 149.8L773 551.5M525.5 148.8L773 551.5M525.5 147.8L773 551.5M525.5 149.8L773 544.6M525.5 148.8L773 544.6M525.5 147.8L773 544.6M525.5 149.8L773 537.6M525.5 148.8L773 537.6M525.5 147.8L773 537.6M525.5 149.8L773 530.7M525.5 148.8L773 530.7M525.5 147.8L773 530.7M525.5 149.8L773 523.7M525.5 148.8L773 523.7M525.5 147.8L773 523.7M525.5 149.8L773 516.8M525.5 148.8L773 516.8M525.5 147.8L773 516.8M525.5 149.8L773 509.8M525.5 148.8L773 509.8M525.5 147.8L773 509.8M525.5 149.8L773 502.9M525.5 148.8L773 502.9M525.5 147.8L773 502.9M525.5 142.8L773 551.5M525.5 141.9L773 551.5M525.5 140.9L773 551.5M525.5 142.8L773 544.6M525.5 141.9L773 544.6M525.5 140.9L773 544.6M525.5 142.8L773 537.6M525.5 141.9L773 537.6M525.5 140.9L773 537.6M525.5 142.8L773 530.7M525.5 141.9L773 530.7M525.5 140.9L773 530.7M525.5 142.8L773 523.7M525.5 141.9L773 523.7M525.5 140.9L773 523.7M525.5 142.8L773 516.8M525.5 141.9L773 516.8M525.5 140.9L773 516.8M525.5 142.8L773 509.8M525.5 141.9L773 509.8M525.5 140.9L773 509.8M525.5 142.8L773 502.9M525.5 141.9L773 502.9M525.5 140.9L773 502.9M525.5 135.9L773 551.5M525.5 134.9L773 551.5M525.5 133.9L773 551.5M525.5 135.9L773 544.6M525.5 134.9L773 544.6M525.5 133.9L773 544.6M525.5 135.9L773 537.6M525.5 134.9L773 537.6M525.5 133.9L773 537.6M525.5 135.9L773 530.7M525.5 134.9L773 530.7M525.5 133.9L773 530.7M525.5 135.9L773 523.7M525.5 134.9L773 523.7M525.5 133.9L773 523.7M525.5 135.9L773 516.8M525.5 134.9L773 516.8M525.5 133.9L773 516.8M525.5 135.9L773 509.8M525.5 134.9L773 509.8M525.5 133.9L773 509.8M525.5 135.9L773 502.9M525.5 134.9L773 502.9M525.5 133.9L773 502.9M525.5 128.9L773 551.5M525.5 128L773 551.5M525.5 127L773 551.5M525.5 128.9L773 544.6M525.5 128L773 544.6M525.5 127L773 544.6M525.5 128.9L773 537.6M525.5 128L773 537.6M525.5 127L773 537.6M525.5 128.9L773 530.7M525.5 128L773 530.7M525.5 127L773 530.7M525.5 128.9L773 523.7M525.5 128L773 523.7M525.5 127L773 523.7M525.5 128.9L773 516.8M525.5 128L773 516.8M525.5 127L773 516.8M525.5 128.9L773 509.8M525.5 128L773 509.8M525.5 127L773 509.8M525.5 128.9L773 502.9M525.5 128L773 502.9M525.5 127L773 502.9M525.5 122L773 551.5M525.5 121L773 551.5M525.5 120.1L773 551.5M525.5 122L773 544.6M525.5 121L773 544.6M525.5 120.1L773 544.6M525.5 122L773 537.6M525.5 121L773 537.6M525.5 120.1L773 537.6M525.5 122L773 530.7M525.5 121L773 530.7M525.5 120.1L773 530.7M525.5 122L773 523.7M525.5 121L773 523.7M525.5 120.1L773 523.7M525.5 122L773 516.8M525.5 121L773 516.8M525.5 120.1L773 516.8M525.5 122L773 509.8M525.5 121L773 509.8M525.5 120.1L773 509.8" stroke="#666666" stroke-width="1.3" fill="none"/>
</g>
<line x1="29.5" x2="774" y1="575.5" y2="575.5" stroke="#c4c4c4" stroke-width="1" shape-rendering="crispEdges"/>
<line x1="29.5" x2="29.5" y1="32.0" y2="575.7" stroke="#000" stroke-width="1.15"/>
<line x1="277.5" x2="277.5" y1="32.0" y2="575.7" stroke="#000" stroke-width="1.15"/>
<line x1="525.5" x2="525.5" y1="32.0" y2="575.7" stroke="#000" stroke-width="1.15"/>
<line x1="636.4" x2="672.8" y1="56.4" y2="56.4" stroke="#1b9e77" stroke-width="1.5"/>
<text transform="translate(686.7 62.6) scale(0.975 1)" font-size="17.78" fill="#262626">Fair</text>
<line x1="636.4" x2="672.8" y1="82.5" y2="82.5" stroke="#7570b3" stroke-width="1.5"/>
<text transform="translate(686.7 88.7) scale(0.975 1)" font-size="17.78" fill="#262626">Good</text>
<line x1="636.4" x2="672.8" y1="109.4" y2="109.4" stroke="#e6ab02" stroke-width="1.5"/>
<text transform="translate(686.7 115.6) scale(0.975 1)" font-size="17.78" fill="#262626">Ideal</text>
<line x1="636.4" x2="672.8" y1="136.3" y2="136.3" stroke="#666666" stroke-width="1.5"/>
<text transform="translate(686.7 142.5) scale(0.975 1)" font-size="17.78" fill="#262626">Premium</text>
<text x="22.4" y="556.9" font-size="13.33" fill="#262626" text-anchor="end" letter-spacing="-0.9">0</text>
<text x="21.6" y="487.5" font-size="13.33" fill="#262626" text-anchor="end" letter-spacing="-0.9">10</text>
<text x="21.6" y="418" font-size="13.33" fill="#262626" text-anchor="end" letter-spacing="-0.9">20</text>
<text x="21.6" y="348.6" font-size="13.33" fill="#262626" text-anchor="end" letter-spacing="-0.9">30</text>
<text x="21.6" y="279.2" font-size="13.33" fill="#262626" text-anchor="end" letter-spacing="-0.9">40</text>
<text x="21.6" y="209.8" font-size="13.33" fill="#262626" text-anchor="end" letter-spacing="-0.9">50</text>
<text x="21.6" y="140.3" font-size="13.33" fill="#262626" text-anchor="end" letter-spacing="-0.9">60</text>
<text x="21.6" y="70.9" font-size="13.33" fill="#262626" text-anchor="end" letter-spacing="-0.9">70</text>
<text x="29.3" y="590.8" font-size="13.15" fill="#262626" text-anchor="middle">carat</text>
<text x="277.3" y="591.6" font-size="13.15" fill="#262626" text-anchor="middle">depth</text>
<text x="525.3" y="590.8" font-size="13.15" fill="#262626" text-anchor="middle">table</text>
<text x="772.8" y="591.3" font-size="13.15" fill="#262626" text-anchor="middle">clarity</text>
<text x="401.2" y="25.8" font-size="24.44" fill="#262626" text-anchor="middle">Parallel Coordinated of Diamonds</text>
</svg>
</body></html>
